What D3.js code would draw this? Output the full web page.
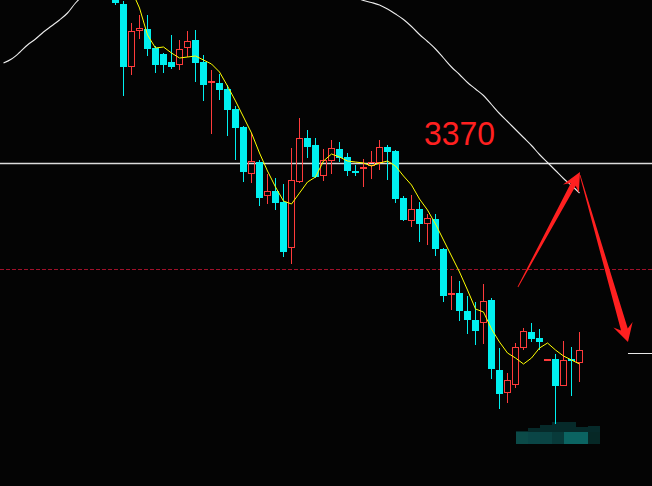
<!DOCTYPE html>
<html><head><meta charset="utf-8">
<script src="https://cdn.jsdelivr.net/npm/d3@7/dist/d3.min.js"></script>
<style>html,body{margin:0;padding:0;background:#040404;overflow:hidden}svg{display:block}</style>
</head><body>
<svg id="c" width="652" height="486"></svg>
<script>
// ---- data (price units) ----
const opens  = [3405.6,3401.8,3389.2,3396.4,3396.8,3393.0,3391.8,3390.2,3389.6,3393.0,3394.6,3390.2,3386.1,3386.0,3384.8,3380.8,3377.2,3367.8,3370.2,3363.4,3364.4,3362.2,3353.0,3366.2,3375.0,3373.6,3367.4,3370.4,3372.8,3371.2,3368.4,3368.8,3369.4,3370.0,3373.2,3372.4,3363.0,3358.4,3360.8,3357.8,3358.8,3352.8,3343.6,3344.0,3340.4,3338.6,3338.0,3342.6,3328.6,3324.0,3325.6,3333.0,3336.2,3335.0,3330.6,3330.8,3325.4,3330.8,3330.0];
const highs  = [3406.6,3402.4,3398.0,3399.6,3399.6,3393.4,3392.0,3395.6,3394.6,3396.4,3396.6,3391.6,3388.6,3387.8,3385.6,3381.4,3377.4,3376.0,3370.6,3367.8,3367.0,3365.8,3373.0,3379.0,3376.6,3375.0,3372.8,3374.6,3374.2,3372.0,3369.6,3370.8,3372.4,3374.6,3373.6,3372.6,3363.4,3363.6,3362.2,3359.8,3359.8,3353.0,3347.4,3346.4,3343.4,3342.2,3345.8,3343.0,3333.0,3328.0,3334.0,3337.0,3338.0,3336.8,3330.8,3331.8,3334.4,3333.2,3336.2];
const lows   = [3401.6,3383.4,3387.6,3394.8,3391.4,3388.0,3388.0,3388.8,3388.6,3391.2,3386.2,3382.4,3375.8,3382.6,3375.4,3370.6,3366.2,3366.0,3361.4,3361.8,3360.6,3351.2,3349.8,3366.0,3371.0,3367.0,3366.4,3367.8,3370.2,3367.4,3367.4,3365.2,3366.8,3368.6,3366.6,3362.0,3358.4,3357.2,3354.2,3353.6,3351.4,3342.2,3340.6,3338.4,3335.8,3333.6,3333.8,3326.8,3320.8,3322.0,3325.0,3332.6,3334.2,3332.6,3330.6,3317.8,3325.4,3323.4,3326.2];
const closes = [3402.0,3389.2,3396.4,3397.0,3392.8,3389.6,3389.6,3389.2,3392.8,3394.4,3390.0,3385.6,3386.4,3384.6,3380.6,3377.0,3368.2,3370.4,3363.0,3364.4,3362.0,3352.2,3366.6,3375.0,3373.2,3367.2,3370.6,3373.0,3371.0,3368.4,3368.0,3369.2,3370.2,3373.2,3372.2,3362.8,3358.6,3360.8,3357.8,3359.0,3352.8,3343.4,3344.0,3340.4,3338.6,3336.4,3342.4,3328.8,3323.8,3326.6,3333.2,3336.4,3334.8,3334.2,3330.8,3325.4,3330.6,3330.4,3332.6];
// short moving average (yellow), one value per candle
const maShort = [3410.6,3407.6,3404.6,3401.0,3395.6,3393.0,3393.2,3392.0,3391.0,3391.2,3391.4,3390.6,3389.8,3388.2,3385.4,3382.4,3379.2,3376.0,3372.0,3368.4,3365.2,3362.4,3361.8,3364.0,3366.2,3367.2,3370.4,3371.8,3371.2,3370.4,3370.2,3370.0,3369.4,3370.0,3370.4,3369.4,3367.4,3365.6,3362.8,3360.6,3357.8,3354.6,3351.4,3348.2,3344.6,3340.8,3340.2,3336.8,3334.2,3332.0,3331.0,3329.8,3331.0,3333.0,3334.0,3332.6,3331.4,3330.6,3329.8];
// long moving average (white), sampled at candle indices
const maLongIdx = [-14,-13,-12,-11,-10,-9,-8,-7,-6,-5,-4,-3,-2,-1,0,1,3,6,10,14,18,22,25,27,28,29,30,31,32,33,34,35,36,37,38,39,40,41,42,43,44,45,46,47,48,49,50,51,52,53,54,55,56,57,58];
const maLongVal = [3390.0,3390.8,3392.1,3393.6,3394.8,3396.2,3397.4,3398.6,3400.0,3402.0,3403.6,3405.0,3406.4,3407.8,3409.0,3410.2,3412.2,3414.6,3417.0,3418.2,3417.6,3414.6,3411.0,3408.2,3406.2,3404.4,3403.2,3402.5,3402.1,3401.6,3400.8,3399.8,3398.7,3397.3,3395.7,3394.3,3392.8,3391.0,3389.2,3387.7,3386.1,3384.8,3383.5,3381.7,3379.9,3378.3,3376.7,3375.1,3373.5,3371.7,3370.1,3368.5,3366.9,3365.5,3364.0];
const levelLine = 3370;       // solid white level
const dashedLevel = 3348.8;   // dashed red level
const targetLevel = 3332.0;   // short white mark at right
const labelText = "3370";
// arrows: [tailIdx, tailPrice, tipIdx, tipPrice]
const arrowUp   = [50.3, 3345.2, 58.06, 3368.2];
const arrowDown = [58.06, 3367.6, 64.06, 3334.2];
// blurred area blocks at bottom: top price of upper layer, lower colour
const blurTop   = [3316.4,3317.0,3317.6,3318.2,3318.2,3317.2,3317.4];
const blurColor = ["#0b4a48","#0a4546","#0a4444","#083a3a","#0b6462","#0b6462","#062826"];

// ---- drawing ----
const W = 652, H = 486;
const svg = d3.select("#c");
const x = d3.scaleLinear().domain([-14.4375, 67.0625]).range([0, W]);
const y = d3.scaleLinear().domain([3402.6, 3305.4]).range([0, H]);
const RED = "#ff3b3b", CYAN = "#00f0f0";

svg.append("rect").attr("width", W).attr("height", H).attr("fill", "#040404");

// blurred blocks
blurTop.forEach((t, k) => {
  const x0 = x(50.0625 + 1.5 * k), x1 = x(50.0625 + 1.5 * (k + 1));
  svg.append("rect").attr("x", x0).attr("width", x1 - x0)
    .attr("y", Math.round(y(t))).attr("height", Math.round(y(3316.2)) - Math.round(y(t)))
    .attr("fill", "#062a2a");
  svg.append("rect").attr("x", x0).attr("width", x1 - x0)
    .attr("y", Math.round(y(3316.2))).attr("height", Math.round(y(3313.8)) - Math.round(y(3316.2)))
    .attr("fill", blurColor[k]);
});

// level lines
svg.append("line").attr("x1", 0).attr("x2", W)
  .attr("y1", Math.round(y(levelLine)) + 0.5).attr("y2", Math.round(y(levelLine)) + 0.5)
  .attr("stroke", "#dcdcdc").attr("stroke-width", 1.5);
svg.append("line").attr("x1", 0).attr("x2", W)
  .attr("y1", Math.round(y(dashedLevel)) + 0.5).attr("y2", Math.round(y(dashedLevel)) + 0.5)
  .attr("stroke", "#a0102a").attr("stroke-width", 1).attr("stroke-dasharray", "4,2");
svg.append("line").attr("x1", x(64.06)).attr("x2", W)
  .attr("y1", Math.round(y(targetLevel)) + 0.5).attr("y2", Math.round(y(targetLevel)) + 0.5)
  .attr("stroke", "#e8e8e8").attr("stroke-width", 1);

// long MA
svg.append("path")
  .attr("d", d3.line().x(d => x(d)).y((d, i) => y(maLongVal[i])).curve(d3.curveMonotoneX)(maLongIdx))
  .attr("fill", "none").attr("stroke", "#ececec").attr("stroke-width", 1.1);

// candles
const g = svg.append("g");
opens.forEach((o, i) => {
  const c = closes[i];
  const cx = Math.floor(x(i)) + 0.5;
  const up = c > o;
  const top = Math.round(y(Math.max(o, c))), bot = Math.round(y(Math.min(o, c)));
  const hi = Math.round(y(highs[i])), lo = Math.round(y(lows[i]));
  const col = up ? RED : CYAN;
  if (up) {
    if (hi < top) g.append("line").attr("x1", cx).attr("x2", cx).attr("y1", hi).attr("y2", top).attr("stroke", col);
    if (lo > bot) g.append("line").attr("x1", cx).attr("x2", cx).attr("y1", bot).attr("y2", lo).attr("stroke", col);
    if (bot - top <= 2) {
      g.append("rect").attr("x", cx - 3.5).attr("y", top).attr("width", 7).attr("height", Math.max(2, bot - top)).attr("fill", col);
    } else {
      g.append("rect").attr("x", cx - 3).attr("y", top + 0.5).attr("width", 6).attr("height", bot - top - 1)
        .attr("fill", "none").attr("stroke", col).attr("stroke-width", 1);
    }
  } else {
    g.append("line").attr("x1", cx).attr("x2", cx).attr("y1", hi).attr("y2", lo).attr("stroke", col);
    g.append("rect").attr("x", cx - 3.5).attr("y", top).attr("width", 7).attr("height", Math.max(2, bot - top)).attr("fill", col);
  }
});

// short MA
svg.append("path")
  .attr("d", d3.line().x((d, i) => x(i)).y(d => y(d))(maShort))
  .attr("fill", "none").attr("stroke", "#ffff00").attr("stroke-width", 1);

// label
svg.append("text").attr("x", x(38.55)).attr("y", y(3373.6))
  .attr("fill", "#ff2020").attr("font-family", "Liberation Sans, Arial, sans-serif")
  .attr("font-size", 34).attr("textLength", 71).attr("lengthAdjust", "spacingAndGlyphs").text(labelText);

// arrows
function arrow(a, shaftW, headLen, headW, back) {
  const t = [x(a[0]), y(a[1])], p = [x(a[2]), y(a[3])];
  const dx = p[0] - t[0], dy = p[1] - t[1], L = Math.hypot(dx, dy);
  const u = [dx / L, dy / L], n = [-u[1], u[0]];
  const B = [p[0] - u[0] * (headLen - back), p[1] - u[1] * (headLen - back)];
  const Bb = [p[0] - u[0] * headLen, p[1] - u[1] * headLen];
  const pt = (P, s) => [P[0] + n[0] * s, P[1] + n[1] * s];
  const pts = [pt(t, 0.4), pt(B, shaftW / 2), pt(Bb, headW / 2), p, pt(Bb, -headW / 2), pt(B, -shaftW / 2), pt(t, -0.4)];
  svg.append("path").attr("d", "M" + pts.map(q => q.join(",")).join("L") + "Z").attr("fill", "#ff2020");
}
arrow(arrowUp, 5.5, 19, 18, 5);
arrow(arrowDown, 7, 18, 20, 5);
</script>
</body></html>
